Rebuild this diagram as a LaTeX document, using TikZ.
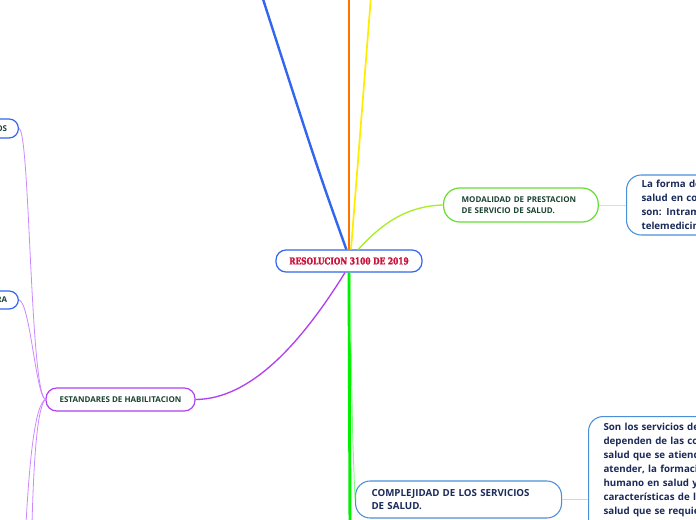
\documentclass[tikz,border=0pt]{standalone}
\usepackage{fontspec}
\setmainfont{Open Sans}
\newfontfamily\titlefont{DejaVu Serif}[FakeStretch=0.8, BoldFeatures={FakeBold=2}]
\usepackage{xcolor}
\usetikzlibrary{positioning}

\definecolor{rootblue}{HTML}{3366EE}
\definecolor{rootred}{HTML}{C8143C}
\definecolor{limeline}{HTML}{AAEE22}
\definecolor{modgreen}{HTML}{66DD33}
\definecolor{darkgreen}{HTML}{1B4332}
\definecolor{navytext}{HTML}{1A2A5A}
\definecolor{skyblue}{HTML}{4A90D9}
\definecolor{habpurple}{HTML}{B040F0}
\definecolor{leafpurple}{HTML}{CC88FF}

\begin{document}
\begin{tikzpicture}[
    x=0.75pt, y=-0.75pt,
    root/.style={rectangle, draw=rootblue, fill=white, line width=0.9pt, rounded corners=7.5pt, minimum width=109.5pt, minimum height=16.5pt, inner sep=0pt, font=\titlefont\bfseries\fontsize{7}{8}\selectfont, text=rootred},
    topic/.style={rectangle, fill=white, line width=0.9pt, rounded corners=10pt, inner ysep=0pt, align=left, font=\bfseries\fontsize{6}{8.3}\selectfont, text=darkgreen},
    detail/.style={rectangle, draw=skyblue, fill=white, line width=0.8pt, rounded corners=11pt, inner ysep=0pt, align=left, font=\bfseries\fontsize{7.3}{10.5}\selectfont, text=navytext}
]
\useasboundingbox (0,0) rectangle (696,520);
\clip (0,0) rectangle (696,520);

% central topic
\node[root] (res) at (349,261) {RESOLUCION 3100 DE 2019};

% main branches
\node[topic, draw=modgreen, anchor=west, text width=89pt, inner xsep=13.5pt, minimum height=25.5pt, rounded corners=12pt] (modal) at (443,205) {MODALIDAD DE PRESTACION\\DE SERVICIO DE SALUD.};
\node[detail, anchor=west, text width=160pt, inner xsep=11.25pt, minimum height=45pt] (forma) at (626,205) {La forma de prestar\\salud en condiciones\\son: Intramural,\\telemedicina.};
\node[detail, anchor=west, text width=130.5pt, inner xsep=12pt, minimum height=27.75pt, font=\bfseries\fontsize{7.3}{9.6}\selectfont] (complej) at (355,499.5) {COMPLEJIDAD DE LOS SERVICIOS\\DE SALUD.};
\node[detail, anchor=north west, text width=160pt, inner xsep=11.25pt, inner ysep=4pt, minimum height=90pt] (servicios) at (588,416) {Son los servicios de salud que\\dependen de las condiciones de\\salud que se atienden o pretende\\atender, la formación del talento\\humano en salud y las\\características de la tecnología en\\salud que se requieren. Para\\efectos del presente manual};
\node[topic, draw=habpurple, minimum width=111.75pt, minimum height=17.25pt, rounded corners=8pt] (estandar) at (120.5,399.5) {ESTANDARES DE HABILITACION};
\node[topic, draw=rootblue, anchor=east, inner xsep=8.5pt, minimum height=14.25pt, rounded corners=7pt] (registros) at (19,128.5) {HISTORIA CLINICA Y REGISTROS};
\node[topic, draw=rootblue, anchor=east, inner xsep=8.5pt, minimum height=13.5pt, rounded corners=7pt] (infra) at (19,300) {INFRAESTRUCTURA};

% free ends of branches leaving the page
\coordinate (upblue) at (262,-4);
\coordinate (uporange) at (349,-4);
\coordinate (upyellow) at (371,-4);
\coordinate (downgreen) at (350,524);
\coordinate (downleft) at (26,524);
\coordinate (downleftb) at (32,524);

\draw[rootblue, line width=1.8pt] ([xshift=-2pt]res.north) .. controls (318,170) .. (upblue);
\draw[orange!90!red, line width=2.2pt] (res.north) -- (uporange);
\draw[yellow!95!orange, line width=1.3pt] ([xshift=1.5pt]res.north) -- (upyellow);
\draw[limeline, line width=1pt] ([xshift=7pt]res.north) .. controls (385,220) and (410,206) .. (modal.west);
\draw[limeline!60, line width=0.6pt] (modal.east) -- (forma.west);
\draw[habpurple, line width=1pt] ([xshift=-3pt]res.south) .. controls (300,345) and (250,399) .. (estandar.east);
\draw[green!90!black!60!green, line width=2.2pt] (res.south) -- (downgreen);
\draw[green!50, line width=0.7pt] ([xshift=1pt]res.south) .. controls (352,420) .. (complej.west);
\draw[green!40, line width=0.6pt] (complej.east) -- (servicios.west |- complej.east);
\draw[leafpurple, line width=0.6pt] (registros.east) .. controls (30,130) and (30,392) .. (estandar.west);
\draw[leafpurple, line width=0.6pt] (infra.east) .. controls (30,302) and (36,396) .. (estandar.west);
\draw[leafpurple, line width=0.6pt] (estandar.west) .. controls (36,404) and (30,450) .. (downleft);
\draw[leafpurple, line width=0.6pt] (estandar.west) .. controls (38,406) and (34,450) .. (downleftb);
\end{tikzpicture}
\end{document}
